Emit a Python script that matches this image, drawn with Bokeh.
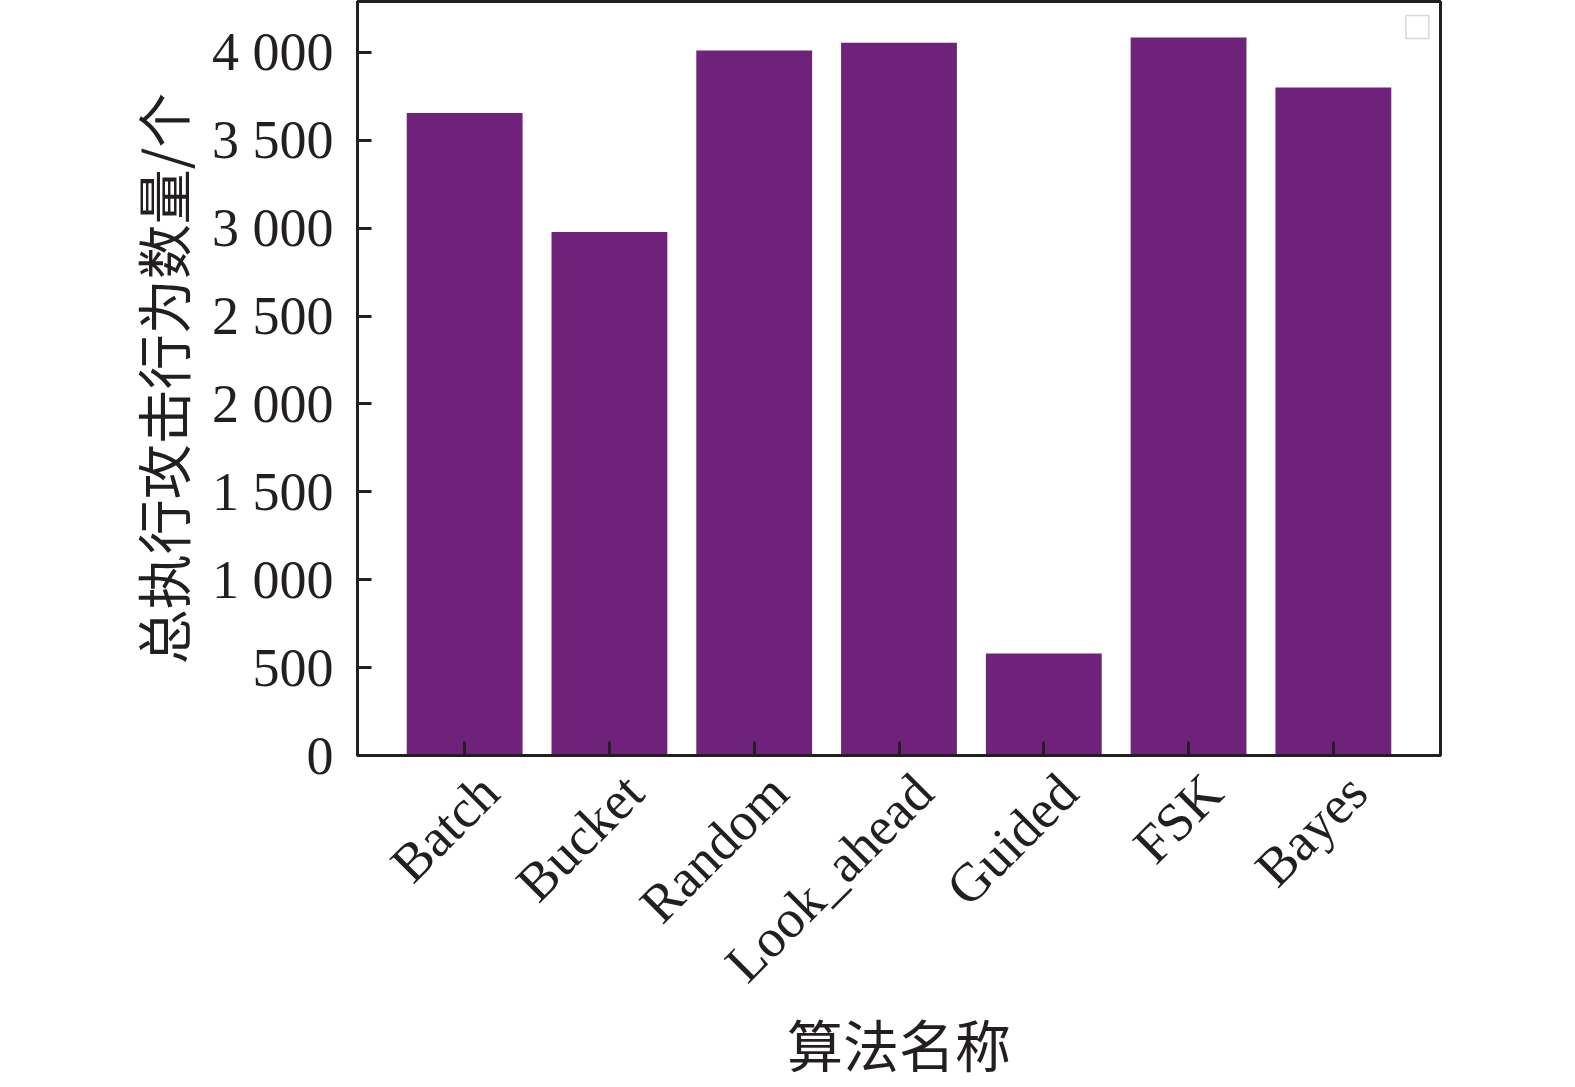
import math
from bokeh.plotting import figure
from bokeh.models import Range1d, FixedTicker, CustomJSTickFormatter
from bokeh.embed import file_html
from bokeh.resources import INLINE

categories = ["Batch", "Bucket", "Random", "Look_ahead", "Guided", "FSK", "Bayes"]
values = [3655, 2978, 4010, 4055, 580, 4085, 3800]
y_ticks = [0, 500, 1000, 1500, 2000, 2500, 3000, 3500, 4000]
y_label = "总执行攻击行为数量/个"
x_label = "算法名称"

BAR = "#6e2279"
INK = "#231f20"
SERIF = "Liberation Serif, Noto Sans CJK SC"
CJK = "Noto Sans CJK SC"
LABEL_SHIFT = 0.17   # rotated labels sit slightly right of their tick (as in the reference)

idx = list(range(len(categories)))

p = figure(
    width=1560, height=1087,
    x_range=Range1d(-0.74, len(categories) - 1 + 0.74),
    y_range=Range1d(0, max(values) * 1.05),
    output_backend="svg", toolbar_location=None,
    min_border_left=357, min_border_right=120, min_border_top=1, min_border_bottom=332,
)

p.vbar(x=idx, top=values, width=0.8, fill_color=BAR, line_color=None)

# empty legend box (as in the reference)
p.rect(x=[6.58], y=[4144], width=23, height=23, width_units="screen", height_units="screen",
       fill_color="white", line_color="#d8d8d8", line_width=1.5)

p.grid.visible = False
p.outline_line_color = INK
p.outline_line_width = 3
p.outline_line_alpha = 1

p.yaxis.ticker = FixedTicker(ticks=y_ticks)
p.yaxis.formatter = CustomJSTickFormatter(code="""
    if (tick >= 1000) {
        const t = Math.floor(tick / 1000);
        const r = String(Math.round(tick % 1000)).padStart(3, '0');
        return t + ' ' + r;
    }
    return String(tick);
""")

for ax in (p.xaxis[0], p.yaxis[0]):
    ax.axis_line_color = INK
    ax.axis_line_width = 3
    ax.major_tick_line_color = INK
    ax.major_tick_line_width = 3
    ax.major_tick_in = 14
    ax.major_tick_out = 0
    ax.minor_tick_line_color = None
    ax.major_label_text_font = SERIF
    ax.major_label_text_font_size = "54px"
    ax.major_label_text_color = INK
    ax.axis_label_text_font = CJK
    ax.axis_label_text_font_style = "normal"
    ax.axis_label_text_color = INK

p.yaxis.major_label_standoff = 24
p.yaxis.axis_label = y_label
p.yaxis.axis_label_text_font_size = "55px"
p.yaxis.axis_label_standoff = 8

# x axis: tick marks (minor ticks) at the bars, category labels rotated 45°
xax = p.xaxis[0]
xax.ticker = FixedTicker(ticks=[i + LABEL_SHIFT for i in idx], minor_ticks=idx)
xax.formatter = CustomJSTickFormatter(args=dict(names=categories, shift=LABEL_SHIFT),
                                      code="return names[Math.round(tick - shift)];")
xax.major_tick_line_color = None
xax.minor_tick_line_color = INK
xax.minor_tick_line_width = 3
xax.minor_tick_in = 14
xax.minor_tick_out = 0
xax.major_label_orientation = math.pi / 4
xax.major_label_standoff = 28
xax.axis_label = x_label
xax.axis_label_text_font_size = "56px"
xax.axis_label_standoff = -16

open("out.html", "w").write(file_html(p, INLINE))
